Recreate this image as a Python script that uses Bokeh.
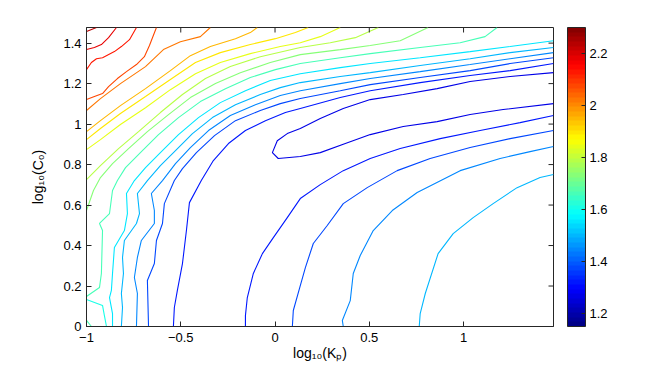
import math
from bokeh.plotting import figure
from bokeh.models import Range1d, FixedTicker, ColorBar, LinearColorMapper
from bokeh.embed import file_html
from bokeh.resources import INLINE

# ---------------- data ----------------
x_ticks = [-1, -0.5, 0, 0.5, 1]
x_tick_labels = ["\u22121", "\u22120.5", "0", "0.5", "1"]
y_ticks = [0, 0.2, 0.4, 0.6, 0.8, 1, 1.2, 1.4]
y_tick_labels = ["0", "0.2", "0.4", "0.6", "0.8", "1", "1.2", "1.4"]
cbar_ticks = [1.2, 1.4, 1.6, 1.8, 2.0, 2.2]
cbar_tick_labels = ["1.2", "1.4", "1.6", "1.8", "2", "2.2"]
c_min, c_max = 1.15, 2.30
level_step = 0.0575
x_max = math.log10(30)
y_max = math.log10(30)

# contour polylines (log10 Kp, log10 C0); level = c_min + k*level_step
k19_x = [-1.0, -0.947]
k19_y = [1.457, 1.477]
k18_x = [-1.0, -0.958, -0.921, -0.883, -0.841]
k18_y = [1.368, 1.378, 1.393, 1.427, 1.477]
k17_x = [-1.0, -0.974, -0.947, -0.915, -0.852, -0.815, -0.772, -0.735]
k17_y = [1.269, 1.304, 1.323, 1.328, 1.358, 1.383, 1.417, 1.477]
k16_x = [-1.0, -0.958, -0.915, -0.883, -0.836, -0.788, -0.735, -0.693, -0.666, -0.629]
k16_y = [1.121, 1.136, 1.151, 1.185, 1.225, 1.259, 1.294, 1.333, 1.388, 1.477]
k15_x = [-1.0, -0.926, -0.820, -0.687, -0.592, -0.502, -0.396, -0.343]
k15_y = [1.067, 1.126, 1.200, 1.284, 1.368, 1.407, 1.432, 1.477]
k14_x = [-1.0, -0.926, -0.820, -0.687, -0.555, -0.449, -0.343, -0.210, -0.131, -0.094]
k14_y = [0.963, 1.017, 1.091, 1.175, 1.264, 1.338, 1.383, 1.422, 1.452, 1.477]
k13_x = [-1.0, -0.926, -0.820, -0.687, -0.555, -0.422, -0.290, -0.131, 0.002, 0.108, 0.176]
k13_y = [0.923, 0.978, 1.052, 1.136, 1.220, 1.304, 1.353, 1.393, 1.422, 1.452, 1.477]
k12_x = [-1.0, -0.926, -0.820, -0.687, -0.555, -0.422, -0.290, -0.131, 0.028, 0.134, 0.240, 0.346]
k12_y = [0.874, 0.923, 0.998, 1.081, 1.170, 1.249, 1.304, 1.348, 1.383, 1.402, 1.432, 1.477]
k11_x = [-1.0, -0.926, -0.830, -0.724, -0.608, -0.491, -0.369, -0.237, -0.078, 0.134, 0.293, 0.426, 0.548]
k11_y = [0.726, 0.795, 0.879, 0.963, 1.057, 1.146, 1.225, 1.284, 1.333, 1.378, 1.402, 1.427, 1.477]
k10_x = [-1.0, -0.963, -0.926, -0.862, -0.777, -0.677, -0.565, -0.449, -0.316, -0.184, -0.025, 0.134,
         0.346, 0.505, 0.664, 0.812]
k10_y = [0.573, 0.672, 0.736, 0.805, 0.879, 0.963, 1.047, 1.131, 1.200, 1.254, 1.304, 1.343,
         1.368, 1.388, 1.412, 1.477]
k9_x = [-1.0, -0.931, -0.921, -0.915, -0.931, -0.878, -0.862, -0.836, -0.793, -0.714, -0.618, -0.512,
        -0.396, -0.263, -0.131, 0.002, 0.134, 0.346, 0.505, 0.770, 0.982, 1.114, 1.178]
k9_y = [0.148, 0.193, 0.262, 0.474, 0.509, 0.558, 0.672, 0.721, 0.785, 0.859, 0.948, 1.032,
        1.111, 1.175, 1.230, 1.269, 1.299, 1.328, 1.348, 1.378, 1.402, 1.432, 1.477]
k9b_x = [-1.0, -0.974]
k9b_y = [0.030, 0.0]
k8_x = [-1.0, -0.915, -0.905, -0.894]
k8_y = [0.133, 0.104, 0.054, 0.0]
k7_x = [-0.862, -0.862, -0.878, -0.868, -0.862, -0.852, -0.799, -0.783, -0.788, -0.746, -0.687, -0.608,
        -0.512, -0.406, -0.290, -0.157, -0.025, 0.134, 0.346, 0.505, 0.770, 1.035, 1.247, 1.477]
k7_y = [0.0, 0.064, 0.143, 0.178, 0.262, 0.390, 0.474, 0.558, 0.657, 0.721, 0.785, 0.859,
        0.948, 1.032, 1.106, 1.165, 1.215, 1.249, 1.279, 1.299, 1.328, 1.358, 1.383, 1.412]
k6_x = [-0.815, -0.809, -0.815, -0.804, -0.809, -0.799, -0.735, -0.719, -0.730, -0.677, -0.608, -0.528,
        -0.438, -0.332, -0.210, -0.078, 0.028, 0.134, 0.346, 0.505, 0.770, 1.035, 1.247, 1.477]
k6_y = [0.0, 0.094, 0.163, 0.262, 0.341, 0.425, 0.509, 0.558, 0.657, 0.721, 0.795, 0.869,
        0.953, 1.032, 1.096, 1.146, 1.180, 1.205, 1.235, 1.254, 1.289, 1.323, 1.353, 1.378]
k6b_x = [0.765, 0.770, 0.797, 0.865, 0.945, 1.051, 1.157, 1.284, 1.406, 1.477]
k6b_y = [0.0, 0.064, 0.163, 0.360, 0.459, 0.538, 0.607, 0.686, 0.736, 0.751]
k5_x = [-0.735, -0.730, -0.746, -0.730, -0.709, -0.640, -0.640, -0.656, -0.597, -0.528, -0.449, -0.353,
        -0.237, -0.104, 0.028, 0.134, 0.346, 0.505, 0.770, 1.035, 1.247, 1.477]
k5_y = [0.0, 0.163, 0.242, 0.341, 0.425, 0.509, 0.573, 0.657, 0.721, 0.805, 0.884, 0.968,
        1.042, 1.096, 1.141, 1.165, 1.200, 1.225, 1.259, 1.294, 1.323, 1.353]
k5b_x = [0.362, 0.357, 0.399, 0.415, 0.452, 0.521, 0.622, 0.754, 0.982, 1.194, 1.353, 1.477]
k5b_y = [0.0, 0.030, 0.128, 0.262, 0.351, 0.474, 0.573, 0.662, 0.770, 0.830, 0.864, 0.889]
k4_x = [-0.671, -0.677, -0.640, -0.629, -0.597, -0.587, -0.534, -0.491, -0.417, -0.321, -0.210, -0.078,
        0.028, 0.134, 0.346, 0.505, 0.770, 1.035, 1.247, 1.477]
k4_y = [0.0, 0.227, 0.311, 0.425, 0.509, 0.607, 0.721, 0.780, 0.859, 0.943, 1.017, 1.067,
        1.101, 1.126, 1.165, 1.195, 1.230, 1.264, 1.299, 1.328]
k4b_x = [0.092, 0.097, 0.134, 0.161, 0.203, 0.277, 0.362, 0.489, 0.648, 0.823, 1.035, 1.247, 1.477]
k4b_y = [0.0, 0.079, 0.202, 0.291, 0.410, 0.499, 0.607, 0.686, 0.770, 0.830, 0.884, 0.928, 0.968]
k3_x = [-0.539, -0.534, -0.518, -0.491, -0.470, -0.454, -0.391, -0.327, -0.247, -0.157, -0.051, 0.055,
        0.134, 0.346, 0.505, 0.770, 1.035, 1.247, 1.477]
k3_y = [0.0, 0.094, 0.178, 0.311, 0.474, 0.612, 0.721, 0.820, 0.904, 0.968, 1.017, 1.057,
        1.077, 1.131, 1.165, 1.205, 1.240, 1.264, 1.299]
k3b_x = [-0.157, -0.157, -0.147, -0.115, -0.067, -0.009, 0.065, 0.134, 0.240, 0.362, 0.505, 0.664,
         0.876, 1.088, 1.300, 1.477]
k3b_y = [0.0, 0.054, 0.143, 0.262, 0.360, 0.439, 0.538, 0.632, 0.701, 0.770, 0.830, 0.879,
         0.928, 0.968, 1.007, 1.042]
k2_x = [1.477, 1.247, 1.035, 0.860, 0.680, 0.505, 0.362, 0.240, 0.134, 0.065, 0.012, -0.014,
        0.017, 0.134, 0.240, 0.373, 0.505, 0.680, 0.860, 1.035, 1.210, 1.477]
k2_y = [1.254, 1.235, 1.210, 1.175, 1.146, 1.121, 1.077, 1.027, 0.978, 0.953, 0.918, 0.859,
        0.830, 0.840, 0.859, 0.904, 0.948, 0.988, 1.012, 1.047, 1.072, 1.101]

contours = [
    (19, k19_x, k19_y), (18, k18_x, k18_y), (17, k17_x, k17_y), (16, k16_x, k16_y),
    (15, k15_x, k15_y), (14, k14_x, k14_y), (13, k13_x, k13_y), (12, k12_x, k12_y),
    (11, k11_x, k11_y), (10, k10_x, k10_y), (9, k9_x, k9_y), (9, k9b_x, k9b_y),
    (8, k8_x, k8_y), (7, k7_x, k7_y), (6, k6_x, k6_y), (6, k6b_x, k6b_y),
    (5, k5_x, k5_y), (5, k5b_x, k5b_y), (4, k4_x, k4_y), (4, k4b_x, k4b_y),
    (3, k3_x, k3_y), (3, k3b_x, k3b_y), (2, k2_x, k2_y),
]

# ---------------- style ----------------
def jet(n):
    cols = []
    for i in range(n):
        t = (i + 0.5) / n
        r = min(max(1.5 - abs(4 * t - 3), 0), 1)
        g = min(max(1.5 - abs(4 * t - 2), 0), 1)
        b = min(max(1.5 - abs(4 * t - 1), 0), 1)
        cols.append("#%02x%02x%02x" % (int(r * 255), int(g * 255), int(b * 255)))
    return cols

palette = jet(64)

def level_color(level):
    i = int((level - c_min) / (c_max - c_min) * 64)
    return palette[min(max(i, 0), 63)]

FONT = "Liberation Sans"
AX = "#262626"

p = figure(frame_width=467, frame_height=299, output_backend="svg", toolbar_location=None,
           x_range=Range1d(-1, x_max), y_range=Range1d(0, y_max),
           min_border_left=86, min_border_top=27, min_border_right=88, min_border_bottom=10,
           background_fill_color="white", border_fill_color="white")
p.grid.visible = False
p.outline_line_color = AX
p.outline_line_width = 1

for k, xs, ys in contours:
    lev = c_min + k * level_step
    p.line(xs, ys, line_color=level_color(lev), line_width=1.1)

# inward tick marks on the top and right edges (clipped by the frame)
p.scatter(x=x_ticks, y=[y_max] * len(x_ticks), marker="dash", size=10, angle=math.pi / 2,
          line_color=AX, line_width=1)
p.scatter(x=[x_max] * len(y_ticks), y=y_ticks, marker="dash", size=10,
          line_color=AX, line_width=1)

def style_axis(ax):
    ax.axis_line_color = AX
    ax.major_tick_line_color = AX
    ax.major_tick_in = 5
    ax.major_tick_out = 0
    ax.minor_tick_line_color = None
    ax.major_label_text_font = FONT
    ax.major_label_text_font_size = "13px"
    ax.major_label_text_color = "black"
    ax.axis_label_text_font = FONT
    ax.axis_label_text_font_size = "14px"
    ax.axis_label_text_font_style = "normal"
    ax.axis_label_text_color = "black"

xa = p.xaxis[0]
xa.ticker = FixedTicker(ticks=x_ticks)
xa.major_label_overrides = dict(zip(x_ticks, x_tick_labels))
xa.axis_label = "log\u2081\u2080(K\u209a)"
style_axis(xa)
xa.major_label_standoff = 6
xa.axis_label_standoff = 0

ya = p.yaxis[0]
ya.ticker = FixedTicker(ticks=y_ticks)
ya.major_label_overrides = dict(zip(y_ticks, y_tick_labels))
ya.axis_label = "log\u2081\u2080(C\u2080)"
style_axis(ya)
ya.major_label_standoff = 5
ya.axis_label_standoff = 14

mapper = LinearColorMapper(palette=palette, low=c_min, high=c_max)
cb = ColorBar(color_mapper=mapper, ticker=FixedTicker(ticks=cbar_ticks),
              major_label_overrides=dict(zip(cbar_ticks, cbar_tick_labels)),
              location=(481, 0), width=18, height=299, padding=0, margin=0,
              bar_line_color=AX,
              major_tick_line_color=AX, major_tick_in=4, major_tick_out=0,
              minor_tick_line_color=None, label_standoff=4,
              major_label_text_font=FONT, major_label_text_font_size="13px",
              major_label_text_color="black", background_fill_color=None,
              border_line_color=None)
p.add_layout(cb)

open("out.html", "w").write(file_html(p, INLINE))
